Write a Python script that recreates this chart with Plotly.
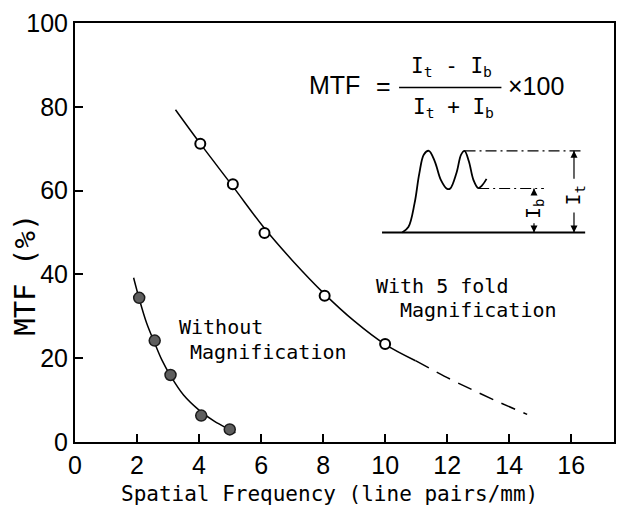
import plotly.graph_objects as go

# ---------------- data ----------------
# measured points
without_x = [2.07, 2.57, 3.08, 4.07, 4.99]
without_y = [34.4, 24.2, 16.0, 6.3, 3.0]
with_x = [4.04, 5.09, 6.11, 8.05, 10.0]
with_y = [71.2, 61.5, 49.9, 34.9, 23.4]

# fitted curves
without_fit_x = [1.89, 2.07, 2.3, 2.57, 2.8, 3.08, 3.5, 4.0, 4.5, 5.0, 5.17]
without_fit_y = [39.2, 34.2, 28.6, 23.6, 19.6, 15.8, 11.2, 7.6, 4.9, 2.9, 2.2]
with_fit_x = [3.24, 4.04, 5.09, 6.11, 7.0, 8.05, 9.0, 10.0, 10.98]
with_fit_y = [79.3, 71.2, 61.0, 51.0, 43.4, 35.3, 28.9, 23.3, 19.4]
with_ext_x = [10.98, 12.1, 12.86, 13.7, 14.58]
with_ext_y = [19.4, 15.0, 12.3, 9.4, 6.6]

# inset schematic (intensity profile)
inset_x = [10.55, 10.75, 10.95, 11.1, 11.25, 11.41, 11.6, 11.8, 12.0, 12.1,
           12.3, 12.45, 12.56, 12.7, 12.85, 13.0, 13.12, 13.27]
inset_y = [50.0, 51.3, 57.0, 64.0, 68.6, 69.5, 67.0, 62.5, 60.4, 60.5,
           64.2, 68.6, 69.5, 67.0, 62.5, 60.6, 61.2, 62.8]
inset_base_x = [9.9, 16.45]
inset_base_y = [50.0, 50.0]
top_ref_x = [12.56, 16.3]
top_ref_y = [69.5, 69.5]
low_ref_x = [13.0, 15.12]
low_ref_y = [60.5, 60.5]
# dimension arrows: (x, head y, tail y)
ib_x, it_x = 14.8, 16.09
dim_arrows = [
    (ib_x, 60.5, 59.0),
    (ib_x, 50.0, 52.2),
    (it_x, 69.5, 62.8),
    (it_x, 50.0, 54.8),
]

x_ticks = [0, 2, 4, 6, 8, 10, 12, 14, 16]
y_ticks = [0, 20, 40, 60, 80, 100]

SANS = "Liberation Sans, Arial, sans-serif"
MONO = "DejaVu Sans Mono, monospace"

fig = go.Figure()

# fitted curves
fig.add_trace(go.Scatter(x=without_fit_x, y=without_fit_y, mode="lines",
                         line=dict(color="black", width=1.5, shape="spline"),
                         showlegend=False, hoverinfo="skip"))
fig.add_trace(go.Scatter(x=with_fit_x, y=with_fit_y, mode="lines",
                         line=dict(color="black", width=1.5, shape="spline"),
                         showlegend=False, hoverinfo="skip"))
fig.add_trace(go.Scatter(x=with_ext_x, y=with_ext_y, mode="lines",
                         line=dict(color="black", width=1.5, shape="spline", dash="15px,9px"),
                         showlegend=False, hoverinfo="skip"))

# measured points
fig.add_trace(go.Scatter(x=without_x, y=without_y, mode="markers", name="Without Magnification",
                         marker=dict(symbol="circle", size=11, color="#5e5e5e",
                                     line=dict(color="#1a1a1a", width=1.5)),
                         showlegend=False))
fig.add_trace(go.Scatter(x=with_x, y=with_y, mode="markers", name="With 5 fold Magnification",
                         marker=dict(symbol="circle", size=10, color="white",
                                     line=dict(color="black", width=2)),
                         showlegend=False))

# inset schematic
fig.add_trace(go.Scatter(x=inset_base_x, y=inset_base_y, mode="lines",
                         line=dict(color="black", width=2), showlegend=False, hoverinfo="skip"))
fig.add_trace(go.Scatter(x=inset_x, y=inset_y, mode="lines",
                         line=dict(color="black", width=1.8, shape="spline"),
                         showlegend=False, hoverinfo="skip"))
for xs, ys in [(top_ref_x, top_ref_y), (low_ref_x, low_ref_y)]:
    fig.add_trace(go.Scatter(x=xs, y=ys, mode="lines",
                             line=dict(color="black", width=1.2, dash="11px,4px,2px,4px"),
                             showlegend=False, hoverinfo="skip"))

# dimension arrows as line segments with arrow-head markers
for ax_x, head_y, tail_y in dim_arrows:
    fig.add_trace(go.Scatter(x=[ax_x, ax_x], y=[tail_y, head_y], mode="lines",
                             line=dict(color="black", width=1.2),
                             showlegend=False, hoverinfo="skip"))
    fig.add_trace(go.Scatter(x=[ax_x], y=[head_y], mode="markers",
                             marker=dict(symbol="arrow-up" if head_y > tail_y else "arrow-down",
                                         size=7, color="black"),
                             showlegend=False, hoverinfo="skip"))
fig.add_annotation(x=ib_x, y=55.6, text="I<sub>b</sub>", textangle=-90, showarrow=False,
                   font=dict(family=MONO, size=20, color="black"))
fig.add_annotation(x=it_x, y=58.8, text="I<sub>t</sub>", textangle=-90, showarrow=False,
                   font=dict(family=MONO, size=20, color="black"))

# formula
fig.add_annotation(x=7.48, y=85.3, text="MTF", showarrow=False, xanchor="left",
                   font=dict(family=SANS, size=25, color="black"))
fig.add_annotation(x=9.95, y=85.0, text="=", showarrow=False,
                   font=dict(family=SANS, size=25, color="black"))
fig.add_annotation(x=12.15, y=89.5, text="I<sub>t</sub> - I<sub>b</sub>", showarrow=False,
                   font=dict(family=MONO, size=21, color="black"))
fig.add_annotation(x=12.2, y=79.8, text="I<sub>t</sub> + I<sub>b</sub>", showarrow=False,
                   font=dict(family=MONO, size=21, color="black"))
fig.add_annotation(x=14.85, y=85.0, text="×100", showarrow=False,
                   font=dict(family=SANS, size=25, color="black"))
fig.add_shape(type="line", x0=10.45, x1=13.75, y0=84.6, y1=84.6, xref="x", yref="y",
              line=dict(color="black", width=1.5))

# curve labels
lab_font = dict(family=MONO, size=20, color="black")
fig.add_annotation(x=4.7, y=27.4, text="Without", showarrow=False, font=lab_font)
fig.add_annotation(x=6.25, y=21.6, text="Magnification", showarrow=False, font=lab_font)
fig.add_annotation(x=11.84, y=37.2, text="With 5 fold", showarrow=False, font=lab_font)
fig.add_annotation(x=13.0, y=31.6, text="Magnification", showarrow=False, font=lab_font)

# axis titles (placed as annotations to match the original's offsets)
fig.add_annotation(x=-0.092, y=0.40, xref="paper", yref="paper", text="MTF (%)",
                   textangle=-90, showarrow=False, xanchor="center", yanchor="middle",
                   font=dict(family=MONO, size=29, color="black"))
fig.add_annotation(x=0.472, y=-0.125, xref="paper", yref="paper",
                   text="Spatial Frequency (line pairs/mm)", showarrow=False,
                   xanchor="center", yanchor="middle",
                   font=dict(family=MONO, size=21, color="black"))

axis_common = dict(showline=True, linecolor="black", linewidth=2, mirror=True,
                   ticks="inside", ticklen=8, tickwidth=2, tickcolor="black",
                   showgrid=False, zeroline=False,
                   tickfont=dict(family=SANS, size=25, color="black"))

fig.update_layout(
    width=618, height=506,
    margin=dict(l=75, r=2, t=23, b=64),
    paper_bgcolor="white", plot_bgcolor="white",
    xaxis=dict(range=[0, 17.38], tickvals=x_ticks, ticktext=[str(v) for v in x_ticks],
               **axis_common),
    yaxis=dict(range=[0, 100], tickvals=y_ticks, ticktext=[str(v) for v in y_ticks],
               ticklabelstandoff=0, **axis_common),
)

fig.write_html("out.html")
